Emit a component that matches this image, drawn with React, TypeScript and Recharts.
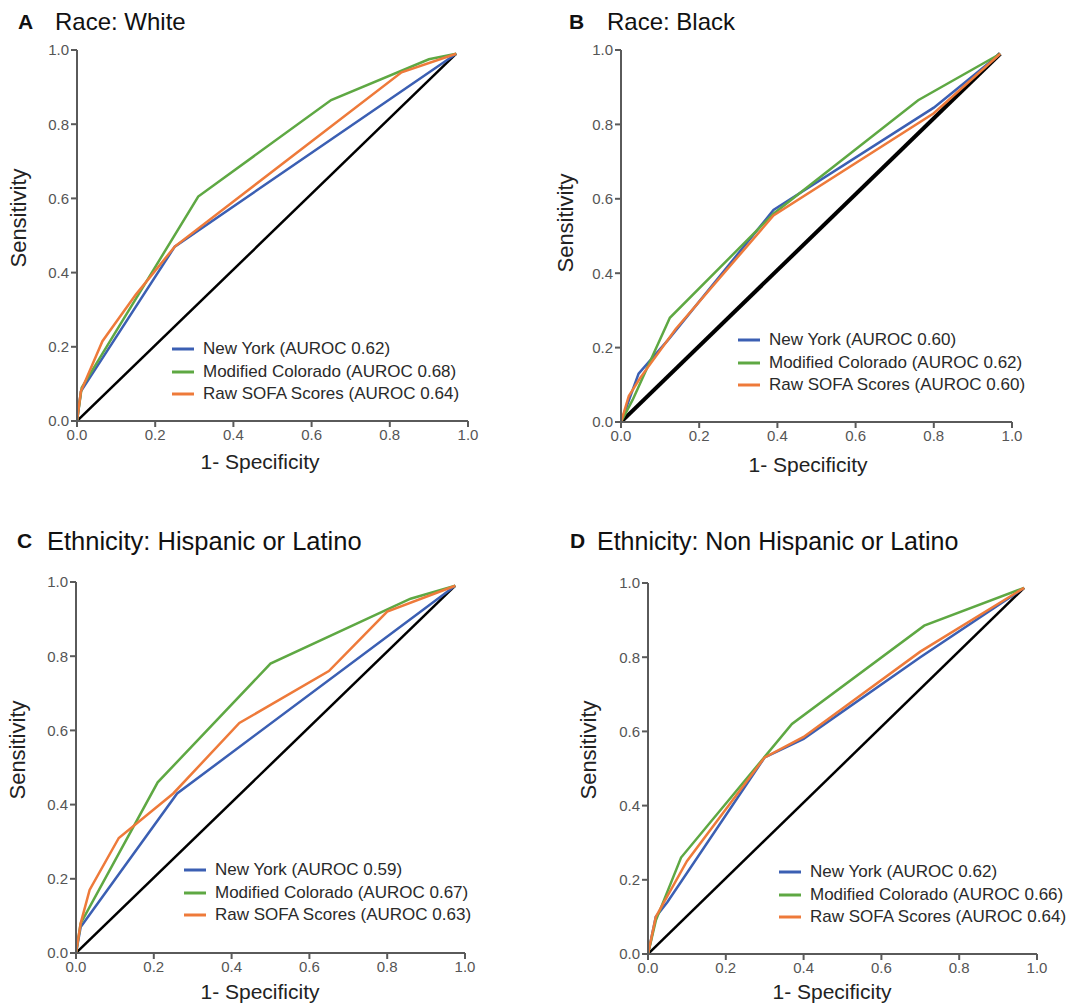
import React from "react"
import { LineChart, Line, XAxis, YAxis, Legend } from "recharts"

type Pt = [number, number]

const axisTicks = [0, 0.2, 0.4, 0.6, 0.8, 1.0]
const seriesNames = ["New York", "Modified Colorado", "Raw SOFA Scores"]
const seriesColors = ["#3b5fb3", "#5ea843", "#ee7a3a"]

// A — Race: White
const whiteNY: Pt[] = [[0, 0], [0.01, 0.08], [0.25, 0.47], [0.97, 0.99]]
const whiteCO: Pt[] = [[0, 0], [0.012, 0.09], [0.31, 0.605], [0.65, 0.865], [0.9, 0.975], [0.97, 0.99]]
const whiteSOFA: Pt[] = [[0, 0], [0.01, 0.08], [0.065, 0.215], [0.15, 0.34], [0.25, 0.47], [0.83, 0.94], [0.97, 0.99]]
const whiteChance: Pt[] = [[0, 0], [0.97, 0.99]]
const whiteAuroc = [0.62, 0.68, 0.64]

// B — Race: Black
const blackNY: Pt[] = [[0, 0], [0.045, 0.13], [0.12, 0.22], [0.39, 0.57], [0.8, 0.845], [0.97, 0.99]]
const blackCO: Pt[] = [[0, 0], [0.03, 0.06], [0.125, 0.28], [0.39, 0.56], [0.76, 0.865], [0.97, 0.99]]
const blackSOFA: Pt[] = [[0, 0], [0.02, 0.07], [0.05, 0.12], [0.14, 0.25], [0.39, 0.555], [0.8, 0.83], [0.97, 0.99]]
const blackChance: Pt[] = [[0, 0], [0.97, 0.99]]
const blackAuroc = [0.6, 0.62, 0.6]

// C — Ethnicity: Hispanic or Latino
const hispNY: Pt[] = [[0, 0], [0.012, 0.07], [0.26, 0.43], [0.975, 0.99]]
const hispCO: Pt[] = [[0, 0], [0.012, 0.08], [0.21, 0.46], [0.5, 0.78], [0.86, 0.955], [0.975, 0.99]]
const hispSOFA: Pt[] = [[0, 0], [0.012, 0.08], [0.035, 0.17], [0.11, 0.31], [0.25, 0.43], [0.42, 0.62], [0.65, 0.76], [0.8, 0.92], [0.975, 0.99]]
const hispChance: Pt[] = [[0, 0], [0.975, 0.99]]
const hispAuroc = [0.59, 0.67, 0.63]

// D — Ethnicity: Non Hispanic or Latino
const nonHispNY: Pt[] = [[0, 0], [0.02, 0.1], [0.05, 0.14], [0.3, 0.53], [0.4, 0.58], [0.7, 0.8], [0.967, 0.987]]
const nonHispCO: Pt[] = [[0, 0], [0.02, 0.09], [0.085, 0.26], [0.37, 0.62], [0.71, 0.885], [0.967, 0.987]]
const nonHispSOFA: Pt[] = [[0, 0], [0.02, 0.1], [0.1, 0.25], [0.3, 0.53], [0.4, 0.585], [0.7, 0.815], [0.967, 0.987]]
const nonHispChance: Pt[] = [[0, 0], [0.967, 0.987]]
const nonHispAuroc = [0.62, 0.66, 0.64]

const FONT = "'Liberation Sans', Arial, Helvetica, sans-serif"
const YAXIS_W = 45
const TOP = 10
const RIGHT = 20
const XAXIS_H = 30
const ROW_H = 22.5

const toRows = (pts: Pt[]) => pts.map(([x, y]) => ({ x, y }))

interface PanelProps {
  letter: string
  title: string
  titleSize: number
  curves: Pt[][]
  chance: Pt[]
  auroc: number[]
  plot: { x: number; y: number; w: number; h: number }
  titleAt: { letterX: number; textX: number; y: number }
  legendAt: { x: number; y: number }
  yLabelAt: { x: number; y: number }
  xLabelAt: { x: number; y: number }
  chanceWidth: number
}

function LegendBox({ auroc }: { auroc: number[] }) {
  return (
    <div style={{ fontFamily: FONT, fontSize: 17, color: "#2a2a2a" }}>
      {seriesNames.map((name, i) => (
        <div key={name} style={{ display: "flex", alignItems: "center", height: ROW_H, whiteSpace: "nowrap" }}>
          <svg width={31} height={6} style={{ flex: "none" }}>
            <line x1={0} x2={22} y1={3} y2={3} stroke={seriesColors[i]} strokeWidth={3} />
          </svg>
          <span>
            {name} (AUROC {auroc[i].toFixed(2)})
          </span>
        </div>
      ))}
    </div>
  )
}

function Panel(p: PanelProps) {
  const chartLeft = p.plot.x - YAXIS_W
  const chartTop = p.plot.y - TOP
  const tickStyle = { fontSize: 15, fill: "#555", fontFamily: FONT }
  return (
    <>
      <div
        style={{
          position: "absolute",
          left: p.titleAt.letterX,
          top: p.titleAt.y,
          transform: "translateY(-50%)",
          fontFamily: FONT,
          fontWeight: 700,
          fontSize: 21,
          color: "#111",
        }}
      >
        {p.letter}
      </div>
      <div
        style={{
          position: "absolute",
          left: p.titleAt.textX,
          top: p.titleAt.y,
          transform: "translateY(-50%)",
          fontFamily: FONT,
          fontSize: p.titleSize,
          color: "#111",
          whiteSpace: "nowrap",
        }}
      >
        {p.title}
      </div>
      <div
        style={{
          position: "absolute",
          left: p.yLabelAt.x,
          top: p.yLabelAt.y,
          transform: "translate(-50%, -50%) rotate(-90deg)",
          fontFamily: FONT,
          fontSize: 22,
          color: "#222",
          whiteSpace: "nowrap",
        }}
      >
        Sensitivity
      </div>
      <div
        style={{
          position: "absolute",
          left: p.xLabelAt.x,
          top: p.xLabelAt.y,
          transform: "translate(-50%, -50%)",
          fontFamily: FONT,
          fontSize: 21,
          color: "#222",
          whiteSpace: "nowrap",
        }}
      >
        1- Specificity
      </div>
      <div style={{ position: "absolute", left: chartLeft, top: chartTop }}>
        <LineChart
          width={p.plot.w + YAXIS_W + RIGHT}
          height={p.plot.h + TOP + XAXIS_H}
          margin={{ top: TOP, right: RIGHT, bottom: 0, left: 0 }}
        >
          <XAxis
            type="number"
            dataKey="x"
            domain={[0, 1]}
            ticks={axisTicks}
            tickFormatter={(v: number) => v.toFixed(1)}
            height={XAXIS_H}
            stroke="#5a5a5a"
            strokeWidth={2}
            tickSize={6}
            tick={tickStyle}
            allowDataOverflow
          />
          <YAxis
            type="number"
            dataKey="y"
            domain={[0, 1]}
            ticks={axisTicks}
            tickFormatter={(v: number) => v.toFixed(1)}
            width={YAXIS_W}
            stroke="#5a5a5a"
            strokeWidth={2}
            tickSize={6}
            tick={tickStyle}
            allowDataOverflow
          />
          <Legend
            layout="vertical"
            align="center"
            verticalAlign="middle"
            content={() => <LegendBox auroc={p.auroc} />}
            wrapperStyle={{
              left: p.legendAt.x - chartLeft,
              top: p.legendAt.y - chartTop - ROW_H / 2,
              width: "auto",
            }}
          />
          <Line
            data={toRows(p.chance)}
            dataKey="y"
            stroke="#000"
            strokeWidth={p.chanceWidth}
            dot={false}
            activeDot={false}
            legendType="none"
            isAnimationActive={false}
          />
          {p.curves.map((c, i) => (
            <Line
              key={seriesNames[i]}
              data={toRows(c)}
              dataKey="y"
              name={seriesNames[i]}
              stroke={seriesColors[i]}
              strokeWidth={2.5}
              dot={false}
              activeDot={false}
              isAnimationActive={false}
            />
          ))}
        </LineChart>
      </div>
    </>
  )
}

export default function App() {
  return (
    <div style={{ position: "absolute", left: 0, top: 0, width: 1088, height: 1005, background: "#fff", overflow: "hidden" }}>
      <Panel
        letter="A"
        title="Race: White"
        titleSize={24}
        curves={[whiteNY, whiteCO, whiteSOFA]}
        chance={whiteChance}
        auroc={whiteAuroc}
        plot={{ x: 77, y: 50, w: 391, h: 371 }}
        titleAt={{ letterX: 18, textX: 55, y: 22 }}
        legendAt={{ x: 172, y: 349 }}
        yLabelAt={{ x: 19, y: 218 }}
        xLabelAt={{ x: 260, y: 462 }}
        chanceWidth={2.5}
      />
      <Panel
        letter="B"
        title="Race: Black"
        titleSize={24}
        curves={[blackNY, blackCO, blackSOFA]}
        chance={blackChance}
        auroc={blackAuroc}
        plot={{ x: 621, y: 50, w: 391, h: 372 }}
        titleAt={{ letterX: 569, textX: 607, y: 22 }}
        legendAt={{ x: 738, y: 340 }}
        yLabelAt={{ x: 566, y: 223 }}
        xLabelAt={{ x: 808, y: 465 }}
        chanceWidth={4}
      />
      <Panel
        letter="C"
        title="Ethnicity: Hispanic or Latino"
        titleSize={25.5}
        curves={[hispNY, hispCO, hispSOFA]}
        chance={hispChance}
        auroc={hispAuroc}
        plot={{ x: 76, y: 582, w: 389, h: 371 }}
        titleAt={{ letterX: 17, textX: 47, y: 541 }}
        legendAt={{ x: 184, y: 870 }}
        yLabelAt={{ x: 18, y: 750 }}
        xLabelAt={{ x: 260, y: 992 }}
        chanceWidth={2.5}
      />
      <Panel
        letter="D"
        title="Ethnicity: Non Hispanic or Latino"
        titleSize={25}
        curves={[nonHispNY, nonHispCO, nonHispSOFA]}
        chance={nonHispChance}
        auroc={nonHispAuroc}
        plot={{ x: 648, y: 583, w: 389, h: 371 }}
        titleAt={{ letterX: 570, textX: 597, y: 541 }}
        legendAt={{ x: 779, y: 872 }}
        yLabelAt={{ x: 589, y: 750 }}
        xLabelAt={{ x: 832, y: 992 }}
        chanceWidth={2.5}
      />
    </div>
  )
}
